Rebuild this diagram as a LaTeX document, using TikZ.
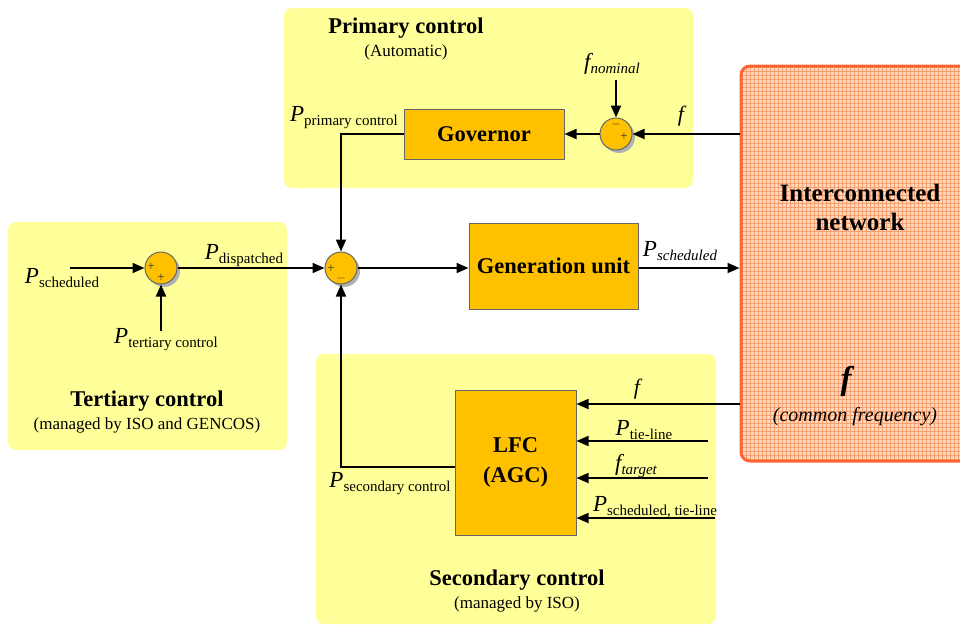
\documentclass[tikz,border=0pt]{standalone}
\usepackage{fontspec}
\setmainfont{Liberation Serif}[
  BoldFont={Liberation Serif Bold},
  ItalicFont={Liberation Serif Italic},
  BoldItalicFont={Liberation Serif Bold Italic}]
\usetikzlibrary{arrows.meta}
\definecolor{panel}{HTML}{FFFF99}
\definecolor{blockfill}{HTML}{FFC000}
\definecolor{netfill}{HTML}{FBD8BE}
\definecolor{netgrid}{HTML}{F4A070}
\definecolor{netedge}{HTML}{FF6633}
% signal label: italic symbol with upright subscript
\newcommand\sigup[2]{{\fontsize{23}{23}\selectfont\itshape #1}\raisebox{-4pt}{\fontsize{15}{15}\selectfont #2}}
% signal label: italic symbol with italic subscript
\newcommand\sigit[2]{{\fontsize{23}{23}\selectfont\itshape #1}\raisebox{-4pt}{\fontsize{15}{15}\selectfont\itshape #2}}
\tikzset{
  panelbox/.style={fill=panel, draw=none, rounded corners=8pt},
  block/.style={draw=black!60, line width=1pt, fill=blockfill, font=\fontsize{22.5}{30}\selectfont\bfseries, align=center, inner sep=0pt},
  summer/.style={circle, draw=black!60, line width=1pt, fill=blockfill, minimum size=32pt, inner sep=0pt},
  shade/.style={circle, fill=black!30, minimum size=32pt, inner sep=0pt},
  sgn/.style={font=\fontsize{13}{13}\selectfont, inner sep=0pt, text=black!80},
  arr/.style={line width=1.8pt, -{Triangle[length=12pt,width=10pt]}},
  title/.style={font=\fontsize{22.5}{25}\selectfont\bfseries},
  subtitle/.style={font=\fontsize{17}{19}\selectfont},
  lab/.style={inner sep=0pt},
}
\begin{document}
\begin{tikzpicture}[x=1pt,y=-1pt]
\clip (0,0) rectangle (960,625);
\fill[white] (0,0) rectangle (960,625);

% control panels
\path[panelbox] (284,8) rectangle (693,188);
\path[panelbox] (8,222) rectangle (287,450);
\path[panelbox] (316,354) rectangle (716,624);

\node[title] (ptitle) at (406,28) {Primary control};
\node[subtitle] (psub) at (406,52) {(Automatic)};
\node[title] (ttitle) at (147,401) {Tertiary control};
\node[subtitle] (tsub) at (147,425) {(managed by ISO and GENCOS)};
\node[title] (stitle) at (517,580) {Secondary control};
\node[subtitle] (ssub) at (517,604) {(managed by ISO)};

% interconnected network
\node[draw=netedge, line width=3pt, fill=netfill, rounded corners=9pt,
      minimum width=250pt, minimum height=395pt, inner sep=0pt,
      path picture={\draw[netgrid, line width=0.5pt, step=4pt]
        (path picture bounding box.south west) grid (path picture bounding box.north east);}]
      (net) at (866,263.5) {};
\node[font=\fontsize{25}{29}\selectfont\bfseries, align=center] (nettxt) at (860,207) {Interconnected\\network};
\node[font=\fontsize{33}{33}\selectfont\bfseries\itshape] (netf) at (846,381) {f};
\node[font=\fontsize{20}{22}\selectfont\itshape] (netsub) at (855,417) {(common frequency)};

% blocks
\node[block, minimum width=160pt, minimum height=50pt] (gov) at (484,134) {Governor};
\node[block, minimum width=169pt, minimum height=86pt] (gen) at (553.5,266) {Generation unit};
\node[block, minimum width=121pt, minimum height=145pt] (lfc) at (515.5,462.5) {LFC\\(AGC)};

% summing junctions
\node[shade] (sps) at (619,137) {};
\node[summer] (sp) at (616,134) {};
\node[sgn] (spa) at (616,124) {$-$};
\node[sgn] (spb) at (624,137) {+};

\node[shade] (sms) at (344,271) {};
\node[summer] (sm) at (341,268) {};
\node[sgn] (sma) at (331,269) {+};
\node[sgn] (smb) at (341,278) {$-$};

\node[shade] (sts) at (164,271) {};
\node[summer] (st) at (161,268) {};
\node[sgn] (sta) at (151,267) {+};
\node[sgn] (stb) at (161,278) {+};

% free ends of input signals
\coordinate (fnom) at (616,80);
\coordinate (psch) at (70,268);
\coordinate (pter) at (161,331);
\coordinate (ptie) at (708,441);
\coordinate (ftar) at (708,478);
\coordinate (pstl) at (715,518);

% primary loop
\draw[arr] (net.west |- sp) -- (sp.east);
\draw[arr] (fnom) -- (sp.north);
\draw[arr] (sp.west) -- (gov.east |- sp);
\draw[arr] (gov.west) -| (sm.north);

% tertiary path
\draw[arr] (psch) -- (st.west);
\draw[arr] (pter) -- (st.south);
\draw[arr] (st.east) -- (sm.west);

% generation
\draw[arr] (sm.east) -- (gen.west |- sm);
\draw[arr] (gen.east |- sm) -- (net.west |- sm);

% secondary loop
\draw[arr] (lfc.west |- 0,467) -| (sm.south);
\draw[arr] (net.west |- 0,404) -- (lfc.east |- 0,404);
\draw[arr] (ptie) -- (lfc.east |- ptie);
\draw[arr] (ftar) -- (lfc.east |- ftar);
\draw[arr] (pstl) -- (lfc.east |- pstl);

% signal labels
\node[lab, font=\fontsize{22}{22}\selectfont\itshape] (lf1) at (681,116) {f};
\node[lab] (lfn) at (612,64) {\sigit{f}{nominal}};
\node[lab] (lpp) at (344,118) {\sigup{P}{primary control}};
\node[lab] (lps) at (62,278) {\sigup{P}{scheduled}};
\node[lab] (lpt) at (166,340) {\sigup{P}{tertiary control}};
\node[lab] (lpd) at (244,256) {\sigup{P}{dispatched}};
\node[lab] (lpg) at (680,251) {\sigit{P}{scheduled}};
\node[lab] (lpsc) at (390,484) {\sigup{P}{secondary control}};
\node[lab, font=\fontsize{22}{22}\selectfont\itshape] (lf2) at (637,389) {f};
\node[lab] (lptl) at (644,430) {\sigup{P}{tie-line}};
\node[lab] (lft) at (636,466) {\sigit{f}{target}};
\node[lab] (lpst) at (655,507) {\sigup{P}{scheduled, tie-line}};
\end{tikzpicture}
\end{document}
